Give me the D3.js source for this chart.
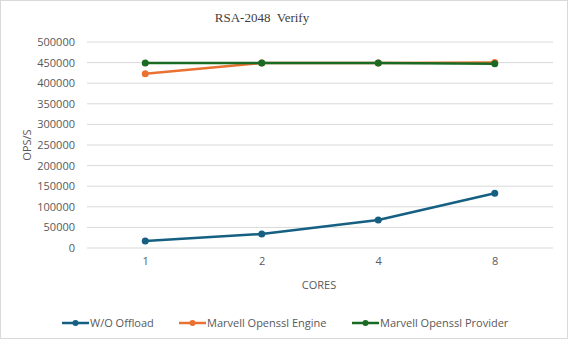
<!DOCTYPE html>
<html><head><meta charset="utf-8">
<script src="https://cdn.jsdelivr.net/npm/d3@7"></script>
<style>body{margin:0;background:#fff}svg{display:block}</style>
</head><body>
<svg id="c" width="568" height="339"></svg>
<script>
const categories = ["1","2","4","8"];
const seriesNames = ["W/O Offload","Marvell Openssl Engine","Marvell Openssl Provider"];
const woOffload = [17000, 34000, 68000, 133000];
const engine = [423000, 449000, 449000, 450000];
const provider = [449000, 449000, 449000, 447000];
const yTicks = [0,50000,100000,150000,200000,250000,300000,350000,400000,450000,500000];
const colors = ["#156082","#E97132","#196B24"];

(function(){
const svg = d3.select("#c");
svg.append("rect").attr("x",0.5).attr("y",0.5).attr("width",567).attr("height",338)
  .attr("fill","#fff").attr("stroke","#d9d9d9");

const pL=87,pR=553,pT=42,pB=248;
const x = d3.scalePoint().domain(categories).range([pL,pR]).padding(0.5);
const y = d3.scaleLinear().domain([0,500000]).range([pB,pT]);

const font = "'Open Sans', 'Noto Sans', sans-serif";
const gray = "#595959";

svg.append("g").selectAll("line").data(yTicks).join("line")
  .attr("x1",pL).attr("x2",pR).attr("y1",d=>y(d)).attr("y2",d=>y(d))
  .attr("stroke","#d9d9d9").attr("stroke-width",1);

const yAxis = svg.append("g").attr("transform",`translate(${pL},0)`)
  .call(d3.axisLeft(y).tickValues(yTicks).tickFormat(d3.format("d")).tickSize(0).tickPadding(12));
yAxis.select(".domain").remove();
yAxis.selectAll("text").attr("fill",gray).style("font-family",font).style("font-size","11px");

const xAxis = svg.append("g").attr("transform",`translate(0,${pB})`)
  .call(d3.axisBottom(x).tickSize(0).tickPadding(9));
xAxis.select(".domain").remove();
xAxis.selectAll("text").attr("fill",gray).style("font-family",font).style("font-size","11px");

svg.append("text").attr("x",262).attr("y",22).attr("text-anchor","middle")
  .style("font-family","'Liberation Serif', serif").style("font-size","13px").style("white-space","pre")
  .attr("fill","#404040")
  .text("RSA-2048  Verify");
svg.append("text").attr("transform","translate(31,145) rotate(-90)").attr("text-anchor","middle")
  .style("font-family",font).style("font-size","11px").attr("fill",gray).text("OPS/S");
svg.append("text").attr("x",319).attr("y",289).attr("text-anchor","middle")
  .style("font-family",font).style("font-size","11px").attr("fill",gray).text("CORES");

const data = [woOffload, engine, provider];
const line = d3.line().x((d,i)=>x(categories[i])).y(d=>y(d));
data.forEach((s,k)=>{
  const g = svg.append("g");
  g.append("path").datum(s).attr("d",line).attr("fill","none")
    .attr("stroke",colors[k]).attr("stroke-width",2.5).attr("stroke-linejoin","round");
  g.selectAll("circle").data(s).join("circle")
    .attr("cx",(d,i)=>x(categories[i])).attr("cy",d=>y(d)).attr("r",3.5).attr("fill",colors[k]);
});

const legX = [62,179,352];
const leg = svg.append("g");
seriesNames.forEach((n,k)=>{
  const g = leg.append("g").attr("transform",`translate(${legX[k]},323)`);
  g.append("line").attr("x1",0).attr("x2",27).attr("y1",0).attr("y2",0)
    .attr("stroke",colors[k]).attr("stroke-width",2.5);
  g.append("circle").attr("cx",13.5).attr("cy",0).attr("r",3).attr("fill",colors[k]);
  g.append("text").attr("x",28).attr("y",4).style("font-family",font).style("font-size","11px")
    .attr("fill",gray).text(n);
});
})();
</script>
</body></html>
